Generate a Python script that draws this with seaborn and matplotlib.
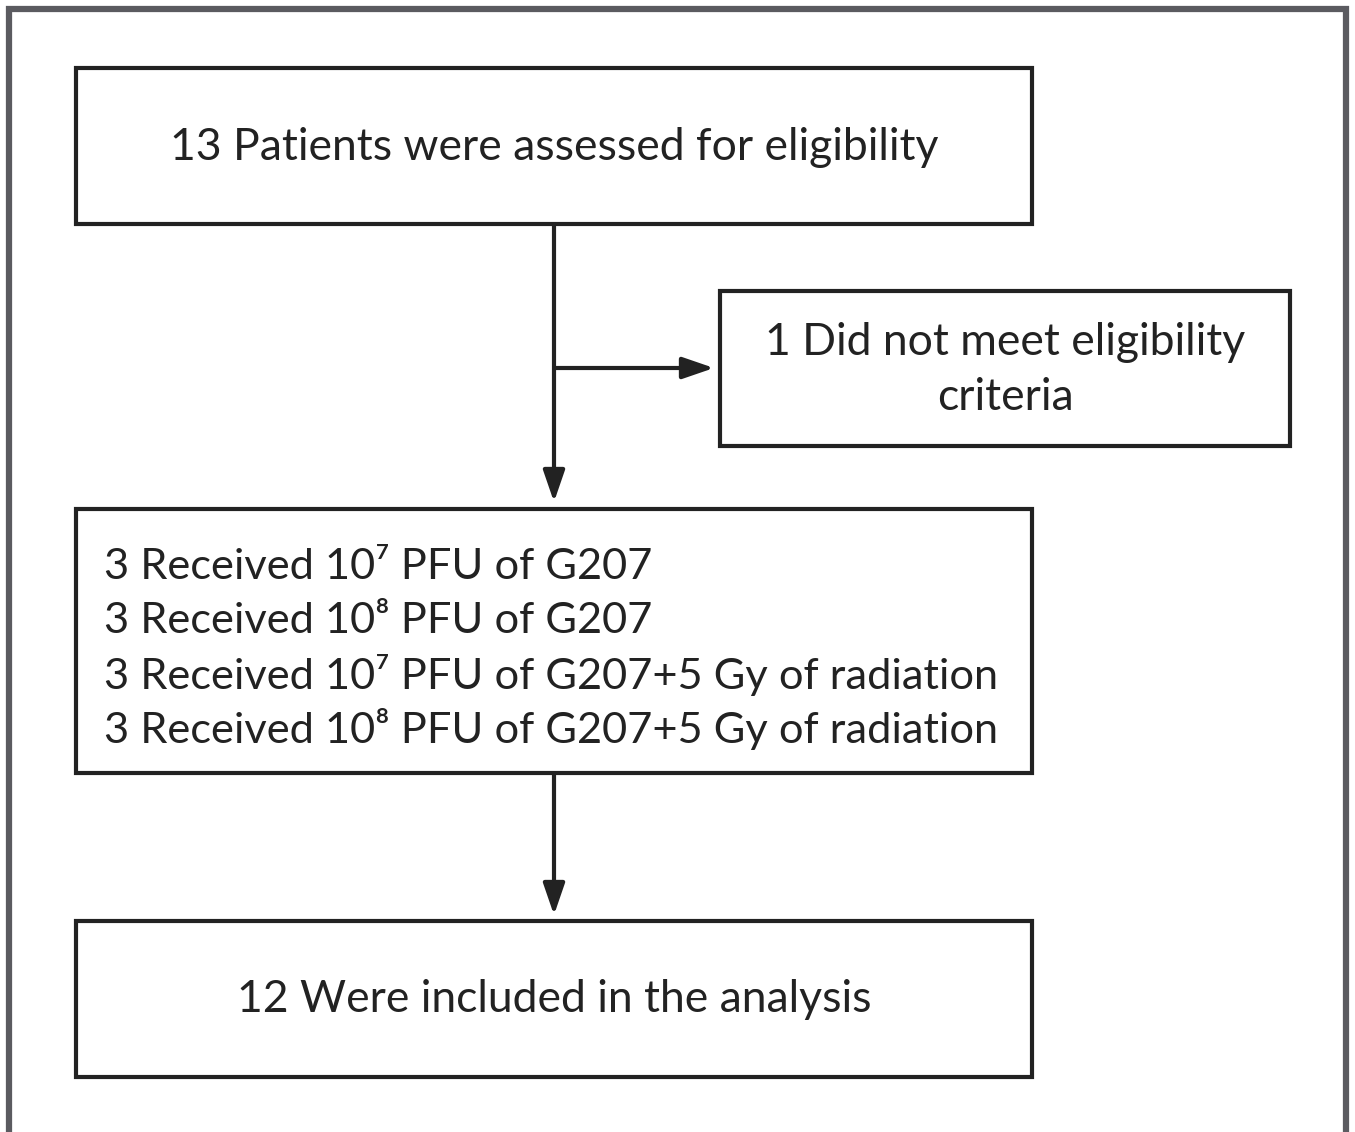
import matplotlib
matplotlib.use("Agg")
import matplotlib.pyplot as plt
import matplotlib.patches as patches
import seaborn as sns

# flowchart text
top_label = "13 Patients were assessed for eligibility"
excluded_label = "1 Did not meet eligibility\ncriteria"
group_labels = [
    "3 Received 10\u2077 PFU of G207",
    "3 Received 10\u2078 PFU of G207",
    "3 Received 10\u2077 PFU of G207+5 Gy of radiation",
    "3 Received 10\u2078 PFU of G207+5 Gy of radiation",
]
bottom_label = "12 Were included in the analysis"

sns.set_theme(style="white")
plt.rcParams['font.family'] = ['Lato', 'DejaVu Sans']

W, H = 1355, 1132
fig = plt.figure(figsize=(W / 100, H / 100), dpi=100)
ax = fig.add_axes([0, 0, 1, 1])
ax.set_xlim(0, W)
ax.set_ylim(H, 0)
ax.axis('off')

ink = '#222222'
lw = 3.0
fs = 32

# outer frame (no bottom edge)
ax.plot([9, 9, 1346, 1346], [H, 9, 9, H], color='#5b5b60', lw=4.5,
        solid_joinstyle='miter')


def box(x0, y0, x1, y1):
    ax.add_patch(patches.Rectangle((x0, y0), x1 - x0, y1 - y0, fill=False,
                                   edgecolor=ink, lw=lw, joinstyle='miter'))


def arrow(x0, y0, x1, y1):
    ax.annotate('', xy=(x1, y1), xytext=(x0, y0),
                arrowprops=dict(arrowstyle='-|>,head_length=1.6,head_width=0.55',
                                color=ink, lw=lw, shrinkA=0, shrinkB=0))


box(76, 68, 1032, 224)
box(720, 291, 1290, 446)
box(76, 509, 1032, 773)
box(76, 921, 1032, 1077)

arrow(554, 224, 554, 502)
arrow(554, 368, 714, 368)
arrow(554, 773, 554, 915)

ax.text(554, 148, top_label, ha='center', va='center', fontsize=fs, color=ink)
ax.text(1005, 370, excluded_label, ha='center', va='center', fontsize=fs,
        color=ink, linespacing=1.45)
for i, lab in enumerate(group_labels):
    ax.text(104, 567 + 54 * i, lab, ha='left', va='center', fontsize=31.2,
            color=ink)
ax.text(554, 999, bottom_label, ha='center', va='center', fontsize=fs,
        color=ink)

fig.savefig('out.png', dpi=100, facecolor='white')
